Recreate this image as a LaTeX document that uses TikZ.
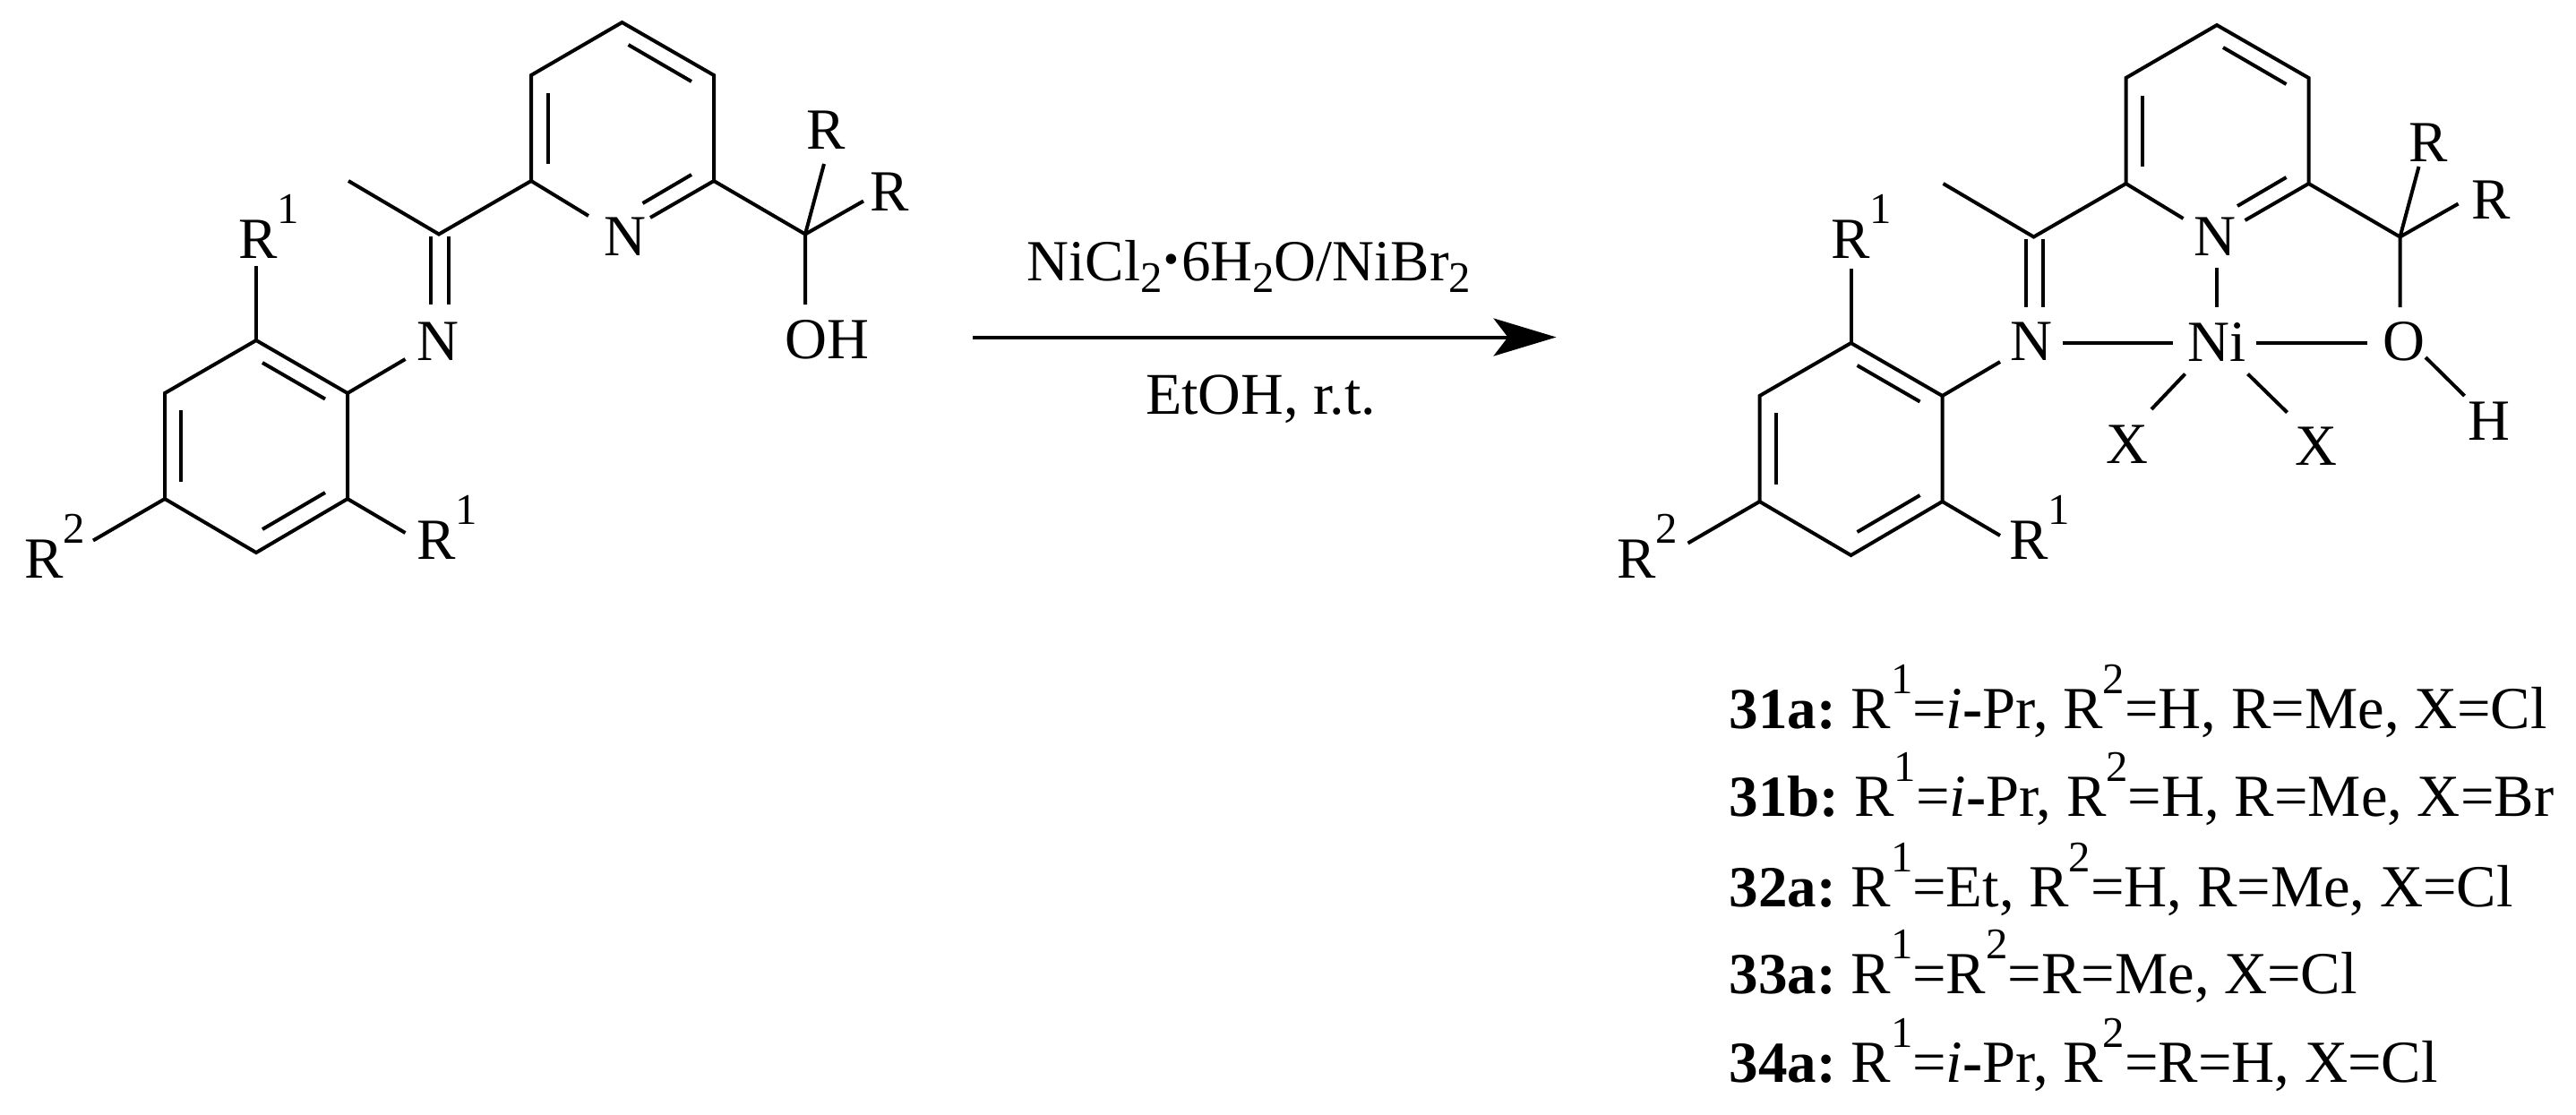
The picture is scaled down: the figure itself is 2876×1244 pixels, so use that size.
\documentclass[tikz,border=0pt]{standalone}
\usepackage{fontspec}
\setmainfont{Liberation Serif}
\usetikzlibrary{arrows.meta}

\newcommand{\sups}[1]{\raisebox{9.7pt}{\fontsize{12.2}{14}\selectfont #1}}
\newcommand{\subs}[1]{\raisebox{-3.4pt}{\fontsize{12.2}{14}\selectfont #1}}
\newcommand{\hydot}{\kern0.6pt\raisebox{2pt}{\fontsize{12}{14}\selectfont\textbullet}\kern0.6pt\relax}
\newcommand{\cpd}[1]{{\fontsize{16.25}{18}\selectfont\bfseries #1}\kern-1.4pt\relax}

\tikzset{
	bond/.style={line width=1pt,line join=miter},
	atom/.style={inner sep=0pt,anchor=base,font=\fontsize{16.25}{18}\selectfont},
	atomw/.style={atom,anchor=base west},
	listitem/.style={inner sep=0pt,anchor=base west,font=\fontsize{16.65}{18}\selectfont},
}

\begin{document}
\begin{tikzpicture}[x=0.25pt,y=-0.25pt]
	\useasboundingbox (0,0) rectangle (2876,1244);

	% the ligand frame, free and on the metal
	\foreach \m/\dx/\dy/\lx in {a/0/0/0,b/1780.5/3/1778} {
		\begin{scope}[shift={(\dx,\dy)},name prefix=\m-]
			\coordinate (pt) at (694.5,25);
			\coordinate (pul) at (593,84);
			\coordinate (pur) at (797,84);
			\coordinate (pll) at (593,202);
			\coordinate (plr) at (797,202);
			\coordinate (pna) at (657,241);
			\coordinate (pnb) at (726,243);
			\coordinate (cim) at (490,261.5);
			\coordinate (me) at (389,202);
			\coordinate (cq) at (899,261.5);
			\coordinate (rt) at (920,183);
			\coordinate (rr) at (964,224.5);
			\coordinate (oh) at (899,340);
			\coordinate (at) at (286,380);
			\coordinate (aur) at (388,439);
			\coordinate (alr) at (388,557);
			\coordinate (ab) at (286,617);
			\coordinate (all) at (184,557);
			\coordinate (aul) at (184,439);
			\coordinate (r1t) at (286,297);
			\coordinate (r1b) at (452.5,595);
			\coordinate (r2) at (104,603.5);
			\coordinate (nar) at (452.5,401);

			\draw[bond] (pna) -- (pll) -- (pul) -- (pt) -- (pur) -- (plr) -- (pnb);
			\draw[bond] (me) -- (cim) -- (pll);
			\draw[bond] (plr) -- (cq) -- (oh);
			\draw[bond] (cq) -- (rt);
			\draw[bond] (cq) -- (rr);
			\draw[bond] (at) -- (aur) -- (alr) -- (ab) -- (all) -- (aul) -- cycle;
			\draw[bond] (at) -- (r1t);
			\draw[bond] (alr) -- (r1b);
			\draw[bond] (all) -- (r2);
			\draw[bond] (aur) -- (nar);

			% inner lines of the double bonds
			\draw[bond] (701.5,50) -- (772,91);
			\draw[bond] (772,195) -- (717.5,227);
			\draw[bond] (611.5,104) -- (611.5,183);
			\draw[bond] (293,405) -- (363,445.5);
			\draw[bond] (363,550) -- (293,591);
			\draw[bond] (202,458) -- (202,538);
			\draw[bond] (481,263.5) -- (481,340);
			\draw[bond] (500.5,263.5) -- (500.5,340);
		\end{scope}
		\begin{scope}[shift={(\lx,0)},name prefix=\m-]
			\node[atomw] (lr1t) at (265.5,288.5) {R\sups{1}};
			\node[atomw] (lr1b) at (464.5,624.5) {R\sups{1}};
			\node[atomw] (lr2) at (26.5,645.5) {R\sups{2}};
		\end{scope}
	}

	% free ligand
	\node[atom] (a-nim) at (489,402.5) {N};
	\node[atom] (a-npy) at (698,285.5) {N};
	\node[atom] (a-ra) at (922,166.5) {R};
	\node[atom] (a-rb) at (993,235.5) {R};
	\node[atom] (a-oh) at (923,400) {OH};

	% complex
	\node[atom] (b-nim) at (2267.5,402.5) {N};
	\node[atom] (b-npy) at (2473,285.5) {N};
	\node[atom] (b-ra) at (2711.5,180) {R};
	\node[atom] (b-rb) at (2781,244.5) {R};
	\node[atom] (ni) at (2475,403.5) {Ni};
	\node[atom] (ox) at (2684,402.5) {O};
	\node[atom] (hy) at (2779,491.5) {H};
	\node[atom] (xa) at (2375,517) {X};
	\node[atom] (xb) at (2585.5,519.5) {X};

	\coordinate (nia) at (2474.5,299);
	\coordinate (nib) at (2474.5,343);
	\coordinate (nic) at (2303,382.5);
	\coordinate (nid) at (2425.5,382.5);
	\coordinate (nie) at (2518.5,382.5);
	\coordinate (nif) at (2642.5,382.5);
	\coordinate (nig) at (2439.5,417.5);
	\coordinate (nih) at (2402,457);
	\coordinate (nii) at (2509.5,417.5);
	\coordinate (nij) at (2553.5,460.5);
	\coordinate (oha) at (2708,399);
	\coordinate (ohb) at (2751.5,442);
	\draw[bond] (nia) -- (nib);
	\draw[bond] (nic) -- (nid);
	\draw[bond] (nie) -- (nif);
	\draw[bond] (nig) -- (nih);
	\draw[bond] (nii) -- (nij);
	\draw[bond] (oha) -- (ohb);

	% reaction arrow
	\coordinate (arra) at (1086,376.5);
	\coordinate (arrb) at (1737.5,376.5);
	\draw[line width=1pt,-{Stealth[length=17.5pt,width=10.5pt,inset=4pt]}] (arra) -- (arrb);
	\node[atom] (reag) at (1394.5,313) {NiCl\subs{2}\hydot 6H\subs{2}O/NiBr\subs{2}};
	\node[atom,font=\fontsize{16.5}{18}\selectfont] (solv) at (1407.5,462.5) {EtOH, r.t.};

	% list of the compounds
	\node[listitem] (l31a) at (1930,813) {\cpd{31a:} R\sups{1}=\textit{i}\textbf{-}Pr, R\sups{2}=H, R=Me, X=Cl};
	\node[listitem] (l31b) at (1930,911) {\cpd{31b:} R\sups{1}=\textit{i}\textbf{-}Pr, R\sups{2}=H, R=Me, X=Br};
	\node[listitem] (l32a) at (1930,1012.5) {\cpd{32a:} R\sups{1}=Et, R\sups{2}=H, R=Me, X=Cl};
	\node[listitem] (l33a) at (1930,1109.5) {\cpd{33a:} R\sups{1}=R\sups{2}=R=Me, X=Cl};
	\node[listitem] (l34a) at (1930,1208) {\cpd{34a:} R\sups{1}=\textit{i}\textbf{-}Pr, R\sups{2}=R=H, X=Cl};
\end{tikzpicture}
\end{document}
